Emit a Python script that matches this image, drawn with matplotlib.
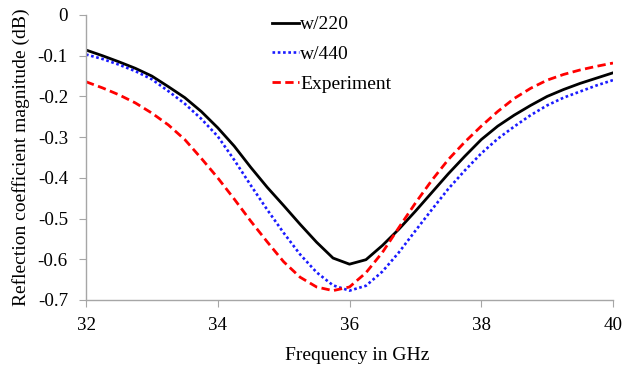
import matplotlib
matplotlib.use("Agg")
import matplotlib.pyplot as plt

freq = [32, 32.25, 32.5, 32.75, 33, 33.25, 33.5, 33.75, 34, 34.25, 34.5, 34.75,
        35, 35.25, 35.5, 35.75, 36, 36.25, 36.5, 36.75, 37, 37.25, 37.5, 37.75,
        38, 38.25, 38.5, 38.75, 39, 39.25, 39.5, 39.75, 40]
w220 = [-0.086, -0.100, -0.115, -0.131, -0.150, -0.176, -0.203, -0.237, -0.277,
        -0.322, -0.374, -0.423, -0.468, -0.514, -0.558, -0.597, -0.612, -0.601,
        -0.566, -0.526, -0.482, -0.436, -0.390, -0.347, -0.306, -0.273, -0.246,
        -0.222, -0.200, -0.183, -0.168, -0.155, -0.142]
w440 = [-0.097, -0.108, -0.122, -0.138, -0.158, -0.187, -0.218, -0.255, -0.298,
        -0.356, -0.418, -0.478, -0.535, -0.588, -0.632, -0.664, -0.677, -0.665,
        -0.630, -0.583, -0.530, -0.478, -0.427, -0.382, -0.340, -0.304, -0.274,
        -0.246, -0.222, -0.203, -0.188, -0.173, -0.160]
experiment = [-0.164, -0.179, -0.196, -0.216, -0.241, -0.270, -0.306, -0.352, -0.400,
              -0.452, -0.506, -0.557, -0.606, -0.644, -0.668, -0.677, -0.668, -0.633,
              -0.583, -0.522, -0.462, -0.406, -0.355, -0.312, -0.273, -0.237, -0.205,
              -0.180, -0.160, -0.146, -0.135, -0.126, -0.118]
labels = ["w/220", "w/440", "Experiment"]
xticks = [32, 34, 36, 38, 40]
yticks = [0, -0.1, -0.2, -0.3, -0.4, -0.5, -0.6, -0.7]

plt.rcParams['font.family'] = ['Liberation Serif', 'DejaVu Serif']
plt.rcParams['axes.unicode_minus'] = False

fig = plt.figure(figsize=(6.32, 3.68), dpi=100)
ax = fig.add_axes([86/632, 68/368, 527/632, 285/368])

ax.plot(freq, w220, color='black', lw=2.0, label=labels[0])
ax.plot(freq, w440, color='#1a1aff', lw=1.9, ls=(0, (1, 1)), dash_capstyle='butt', label=labels[1])
ax.plot(freq, experiment, color='#ff0000', lw=2.0, ls=(0, (3, 1.6)), label=labels[2])

ax.set_xlim(32, 40)
ax.set_ylim(-0.7, 0)
ax.set_xticks(xticks)
ax.set_xticklabels([str(t) for t in xticks])
ax.set_yticks(yticks)
ax.set_yticklabels(["0" if t == 0 else f"{t:.1f}" for t in yticks])

for s in ['top', 'right']:
    ax.spines[s].set_visible(False)
for s in ['left', 'bottom']:
    ax.spines[s].set_color('#a6a6a6')
    ax.spines[s].set_linewidth(1.0)
ax.tick_params(axis='both', direction='out', length=5, color='#a6a6a6', labelsize=13.7)
ax.tick_params(axis='y', pad=8)
ax.tick_params(axis='x', pad=7)

ax.set_xlabel("Frequency in GHz", fontsize=14)
ax.set_ylabel("Reflection coefficient magnitude (dB)", fontsize=14)
ax.xaxis.set_label_coords(0.514, -0.165)
ax.yaxis.set_label_coords(-0.106, 0.5)

leg = ax.legend(loc='upper left', bbox_to_anchor=((272-86)/527, 0.997), frameon=False,
                fontsize=14, handlelength=1.39, handletextpad=0.05, labelspacing=0.62,
                borderpad=0, borderaxespad=0)

fig.savefig("out.png", dpi=100)
